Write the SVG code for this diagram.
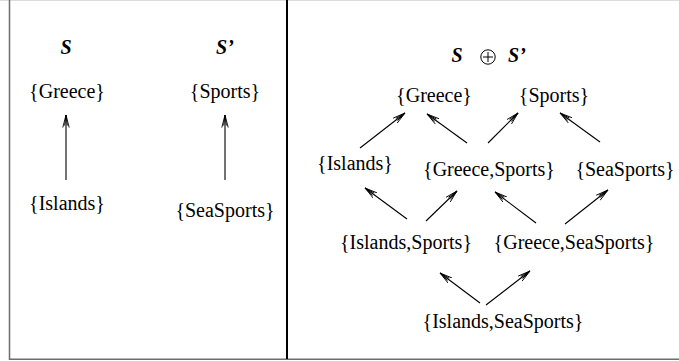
<svg xmlns="http://www.w3.org/2000/svg" width="679" height="361" viewBox="0 0 679 361">
<defs>
<style>
.t{font-family:"Liberation Serif","Times New Roman",serif;font-size:20px;fill:#000;text-anchor:middle}
.h{font-family:"Liberation Serif","Times New Roman",serif;font-size:20px;font-weight:bold;font-style:italic;fill:#000;text-anchor:middle}
.c line{stroke:#000;stroke-width:1.1;marker-end:url(#ah)}
</style>
<marker id="ah" viewBox="0 0 13 8" refX="12.5" refY="4" markerWidth="13" markerHeight="8" markerUnits="userSpaceOnUse" orient="auto">
<path d="M0,0.8 L12.5,4 L0,7.2 M2,2.6 L12.5,4 L2,5.4" fill="none" stroke="#000" stroke-width="0.9"/>
</marker>
</defs>
<rect width="679" height="361" fill="#fff"/>
<g id="frame">
<line x1="0" y1="0.5" x2="679" y2="0.5" stroke="#ddd" stroke-width="1"/>
<line x1="9.5" y1="0" x2="9.5" y2="360" stroke="#6e6e6e" stroke-width="1.5"/>
<line x1="9" y1="359.3" x2="679" y2="359.3" stroke="#6e6e6e" stroke-width="1.5"/>
<line x1="287" y1="0" x2="287" y2="359" stroke="#000" stroke-width="2"/>
</g>
<g id="title-S"><text class="h" x="66" y="54">S</text></g>
<g id="title-S2"><text class="h" x="225" y="54">S’</text></g>
<g id="l-greece"><text class="t" x="67" y="98">{Greece}</text></g>
<g id="l-sports"><text class="t" x="225" y="98">{Sports}</text></g>
<g id="l-islands"><text class="t" x="67" y="210">{Islands}</text></g>
<g id="l-seasports"><text class="t" x="225" y="217">{SeaSports}</text></g>
<g id="title-sum">
<text class="h" x="457" y="62">S</text>
<circle cx="488" cy="57" r="7.2" fill="none" stroke="#000" stroke-width="1"/>
<line x1="483" y1="57" x2="493" y2="57" stroke="#000" stroke-width="1"/>
<line x1="488" y1="52" x2="488" y2="62" stroke="#000" stroke-width="1"/>
<text class="h" x="517" y="62">S’</text>
</g>
<g id="r-greece"><text class="t" x="434" y="102">{Greece}</text></g>
<g id="r-sports"><text class="t" x="554" y="102">{Sports}</text></g>
<g id="r-islands"><text class="t" x="355" y="170">{Islands}</text></g>
<g id="r-greece-sports"><text class="t" x="489" y="176">{Greece,Sports}</text></g>
<g id="r-seasports"><text class="t" x="625" y="176">{SeaSports}</text></g>
<g id="r-islands-sports"><text class="t" x="406" y="249">{Islands,Sports}</text></g>
<g id="r-greece-seasports"><text class="t" x="574" y="249">{Greece,SeaSports}</text></g>
<g id="r-islands-seasports"><text class="t" x="503" y="328">{Islands,SeaSports}</text></g>
<g id="connectors" class="c">
<line x1="66" y1="180" x2="66" y2="115"/>
<line x1="225" y1="180" x2="225" y2="115"/>
<line x1="360" y1="148" x2="405" y2="113"/>
<line x1="467" y1="143" x2="427" y2="114"/>
<line x1="488" y1="143" x2="518" y2="113"/>
<line x1="600" y1="142" x2="560" y2="113"/>
<line x1="407" y1="219" x2="365" y2="188"/>
<line x1="426" y1="221" x2="457" y2="191"/>
<line x1="536" y1="223" x2="495" y2="192"/>
<line x1="565" y1="224" x2="608" y2="190"/>
<line x1="480" y1="303" x2="440" y2="273"/>
<line x1="486" y1="305" x2="530" y2="271"/>
</g>
</svg>
